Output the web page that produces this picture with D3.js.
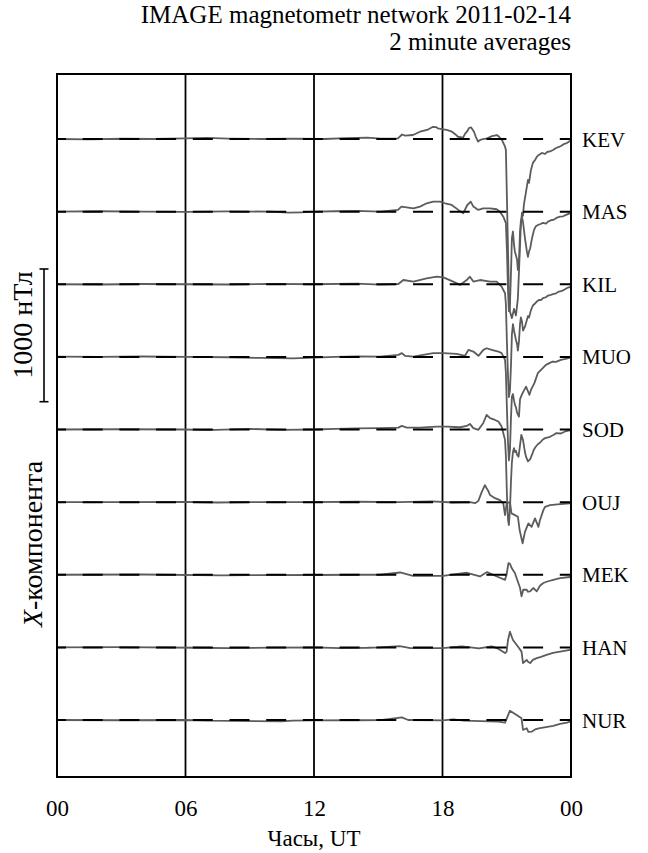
<!DOCTYPE html>
<html><head><meta charset="utf-8">
<script src="https://cdn.jsdelivr.net/npm/d3@7"></script>
<style>
body{margin:0;background:#fff}
svg{display:block;background:#fff}
text{font-family:"Liberation Serif","Times New Roman",serif;fill:#000}
</style>
</head><body>
<svg id="c" width="648" height="853"></svg>
<script>
// ---- data: [UT hour, X-component deviation in nT] ----
const stations = ["KEV","MAS","KIL","MUO","SOD","OUJ","MEK","HAN","NUR"];
const hourTicks = [0,6,12,18,24];
const gridHours = [6,12,18];
const titleLines = ["IMAGE magnetometr network 2011-02-14","2 minute averages"];
const scaleBarNT = 1000;

const KEV = [[0,0],[1.5,-3],[3,2],[4.5,0],[6,5],[7,8],[8,3],[9.5,0],[11,2],[12.5,0],[13.5,6],[14.5,10],[15.1,3],[15.6,2],[15.92,5],[16.11,34],[16.25,26],[16.62,30],[16.95,55],[17.28,68],[17.56,92],[17.70,90],[17.79,80],[18.02,73],[18.2,68],[18.44,55],[18.58,38],[18.72,17],[18.96,10],[19.05,38],[19.14,55],[19.24,83],[19.33,88],[19.47,55],[19.56,15],[19.66,-20],[19.75,-8],[19.84,-2],[20.08,5],[20.31,22],[20.54,30],[20.64,17],[20.78,-8],[20.92,-58],[20.96,-83],[21.01,-458],[21.06,-850],[21.10,-1150],[21.15,-1300],[21.24,-1350],[21.34,-1280],[21.43,-1330],[21.52,-1200],[21.57,-1000],[21.62,-800],[21.66,-645],[21.71,-555],[21.76,-578],[21.80,-495],[21.90,-398],[21.99,-308],[22.04,-330],[22.13,-233],[22.22,-180],[22.32,-158],[22.41,-133],[22.50,-120],[22.64,-105],[22.79,-113],[22.88,-98],[23.02,-94],[23.16,-83],[23.30,-68],[23.44,-60],[23.53,-53],[23.67,-38],[23.81,-30],[23.91,-19],[24,-11]];
const MAS = [[0,0],[2,3],[4,0],[6,-2],[8,2],[10,0],[10.8,-8],[11.4,-5],[12,0],[13,3],[14,5],[15.08,0],[15.92,13],[16.08,38],[16.64,25],[16.95,38],[17.26,63],[17.57,75],[17.88,75],[18.12,63],[18.43,50],[18.74,13],[18.97,-12],[19.16,50],[19.32,75],[19.44,38],[19.67,13],[19.90,25],[20.22,25],[20.53,18],[20.68,0],[20.84,-38],[20.96,-87],[21.01,-300],[21.06,-600],[21.10,-750],[21.15,-700],[21.20,-450],[21.24,-200],[21.29,-150],[21.34,-250],[21.38,-300],[21.43,-330],[21.48,-360],[21.52,-440],[21.57,-380],[21.62,-150],[21.66,-70],[21.71,-40],[21.76,-80],[21.85,-200],[21.94,-300],[21.99,-340],[22.04,-300],[22.09,-280],[22.18,-200],[22.27,-140],[22.36,-110],[22.46,-100],[22.55,-95],[22.69,-85],[22.83,-90],[22.93,-75],[23.06,-65],[23.21,-60],[23.35,-45],[23.49,-38],[23.63,-35],[23.77,-25],[23.91,-15],[24,-12]];
const KIL = [[0,0],[2,-2],[4,2],[6,0],[8,-2],[10,3],[12,0],[14,5],[15.08,-3],[15.94,2],[16.17,32],[16.64,20],[17.26,45],[17.73,57],[18.04,52],[18.50,20],[18.82,-5],[19.13,32],[19.28,57],[19.44,20],[19.75,32],[20.22,20],[20.53,20],[20.76,-18],[20.92,-68],[20.96,-150],[21.01,-450],[21.06,-700],[21.10,-850],[21.15,-800],[21.20,-600],[21.24,-380],[21.29,-300],[21.34,-350],[21.38,-380],[21.43,-420],[21.48,-450],[21.52,-500],[21.57,-430],[21.62,-300],[21.66,-250],[21.71,-280],[21.76,-350],[21.85,-320],[21.94,-270],[21.99,-240],[22.04,-250],[22.13,-195],[22.22,-160],[22.32,-145],[22.41,-130],[22.50,-118],[22.60,-120],[22.69,-105],[22.83,-98],[22.93,-85],[23.06,-80],[23.16,-75],[23.30,-68],[23.44,-55],[23.58,-50],[23.72,-38],[23.86,-25],[24,-18]];
const MUO = [[0,2],[2,0],[4,3],[6,0],[8,-3],[9.5,-8],[11,-12],[12,-5],[13,0],[14,3],[15.08,2],[15.94,15],[16.10,28],[16.25,8],[16.64,2],[17.10,15],[17.57,28],[18.04,28],[18.66,23],[19.05,8],[19.21,53],[19.44,40],[19.68,8],[19.91,53],[20.06,65],[20.30,53],[20.61,40],[20.76,28],[20.92,-23],[20.96,-120],[21.01,-400],[21.06,-650],[21.10,-780],[21.15,-700],[21.20,-450],[21.24,-300],[21.29,-280],[21.34,-330],[21.38,-360],[21.43,-380],[21.48,-420],[21.57,-450],[21.62,-320],[21.67,-298],[21.74,-273],[21.90,-224],[22.06,-286],[22.13,-249],[22.29,-198],[22.45,-123],[22.60,-98],[22.83,-60],[22.99,-47],[23.14,-35],[23.30,-38],[23.53,-23],[23.75,-15],[24,-3]];
const SOD = [[0,0],[3,2],[6,0],[7,-5],[9,5],[10.5,-3],[12,0],[13,5],[14,8],[15.08,10],[15.94,14],[16.10,27],[16.33,14],[16.95,14],[17.73,22],[18.20,22],[18.82,17],[19.13,27],[19.28,42],[19.44,10],[19.67,-3],[19.90,47],[20.06,110],[20.22,85],[20.45,72],[20.61,60],[20.76,22],[20.92,-78],[20.96,-200],[21.01,-500],[21.06,-680],[21.10,-720],[21.15,-600],[21.20,-380],[21.24,-250],[21.29,-170],[21.34,-140],[21.38,-170],[21.43,-160],[21.48,-190],[21.55,-205],[21.62,-120],[21.68,-40],[21.76,-80],[21.85,-170],[21.90,-205],[21.99,-240],[22.09,-225],[22.18,-190],[22.27,-150],[22.36,-128],[22.46,-110],[22.55,-100],[22.69,-75],[22.79,-65],[23.02,-55],[23.20,-40],[23.30,-28],[23.53,-30],[23.72,-15],[24,-5]];
const OUJ = [[0,0],[3,0],[6,2],[7.5,-3],[9,0],[12,0],[14,3],[16,0],[17.5,5],[18.5,-3],[19.28,0],[19.52,-8],[19.67,8],[19.83,75],[19.91,103],[19.98,128],[20.06,105],[20.12,90],[20.22,53],[20.45,30],[20.68,15],[20.84,-10],[20.92,-98],[21.00,-10],[21.15,0],[21.22,-85],[21.38,-98],[21.52,-110],[21.60,-210],[21.74,-310],[21.85,-224],[22.01,-160],[22.16,-186],[22.32,-123],[22.48,-186],[22.55,-136],[22.71,-60],[22.79,-35],[23.02,-23],[23.49,-15],[23.95,-10],[24,-8]];
const MEK = [[0,0],[4,2],[7.7,-5],[9,-3],[12,-2],[14,0],[15.08,0],[16.02,17],[16.62,-8],[18.02,-8],[19.14,15],[19.75,-13],[20.08,20],[20.54,-13],[20.92,-38],[20.99,0],[21.08,88],[21.15,83],[21.23,50],[21.38,13],[21.54,-62],[21.62,-98],[21.69,-163],[21.77,-113],[21.93,-113],[21.99,-128],[22.09,-125],[22.24,-100],[22.40,-125],[22.55,-83],[22.71,-62],[22.93,-49],[23.17,-38],[23.49,-26],[23.95,-17],[24,-15]];
const HAN = [[0,0],[3,2],[6.5,-3],[8,-5],[10,-2],[12,0],[13.2,-5],[14.5,-3],[15.08,0],[16.0,10],[16.5,-5],[18,-5],[18.9,8],[19.7,-8],[20.3,8],[20.6,-10],[20.92,-43],[20.99,-34],[21.06,56],[21.15,118],[21.22,86],[21.29,56],[21.52,6],[21.69,-32],[21.76,-118],[21.93,-94],[21.99,-109],[22.09,-118],[22.22,-94],[22.40,-81],[22.60,-71],[22.86,-56],[23.16,-41],[23.49,-32],[23.95,-19],[24,-18]];
const NUR = [[0,0],[3,-2],[6,0],[7,-5],[10.5,-10],[11,-5],[12,-3],[14,-2],[15.2,0],[16.1,20],[16.4,0],[18,-3],[18.5,5],[19.0,-5],[19.8,-8],[20.6,-12],[20.92,-20],[21.15,70],[21.46,38],[21.69,13],[21.76,-75],[21.93,-62],[22.01,-90],[22.16,-88],[22.36,-68],[22.55,-62],[22.83,-53],[23.17,-45],[23.49,-30],[23.81,-20],[23.95,-13],[24,-10]];
const series = [KEV,MAS,KIL,MUO,SOD,OUJ,MEK,HAN,NUR];

// ---- drawing ----
const svg = d3.select("#c");
const L=57, R=571, T=74, B=777;
const FONT = '"Liberation Serif","Times New Roman",serif';
const x = d3.scaleLinear().domain([0,24]).range([L,R]);
const row = d3.scaleLinear().domain([0,stations.length-1]).range([139,720]);
const dy = d3.scaleLinear().domain([0,1000]).range([0,-132.7]);

// title
svg.selectAll("text.title").data(titleLines).enter().append("text")
  .attr("class","title").attr("x",R).attr("y",(d,i)=>23+i*27)
  .attr("text-anchor","end").attr("font-size",25).text(d=>d);

// vertical grid lines
svg.selectAll("line.grid").data(gridHours).enter().append("line")
  .attr("x1",d=>x(d)).attr("x2",d=>x(d)).attr("y1",T).attr("y2",B)
  .attr("stroke","#000").attr("stroke-width",1.8);

// traces
const line = d3.line().x(d=>x(d[0]));
series.forEach((s,i)=>{
  svg.append("path").datum(s)
    .attr("d", line.y(d=>row(i)+dy(d[1])))
    .attr("fill","none").attr("stroke","#5c5c5c").attr("stroke-width",1.8)
    .attr("stroke-linejoin","round");
});

// dashed baselines
svg.selectAll("line.base").data(stations).enter().append("line")
  .attr("x1",L).attr("x2",R).attr("y1",(d,i)=>row(i)).attr("y2",(d,i)=>row(i))
  .attr("stroke","#000").attr("stroke-width",2)
  .attr("stroke-dasharray","20,16.7").attr("stroke-dashoffset",11);

// frame
svg.append("rect").attr("x",L).attr("y",T).attr("width",R-L).attr("height",B-T)
  .attr("fill","none").attr("stroke","#000").attr("stroke-width",2);

// station labels
svg.selectAll("text.st").data(stations).enter().append("text")
  .attr("class","st").attr("x",582).attr("y",(d,i)=>row(i)+7.5)
  .attr("font-size",21).text(d=>d);

// x axis
const ax = svg.append("g").attr("transform",`translate(0,${B})`)
  .call(d3.axisBottom(x).tickValues(hourTicks)
    .tickFormat(d=>String(d%24).padStart(2,"0")).tickSize(0).tickPadding(23));
ax.select(".domain").remove();
ax.attr("font-family",FONT).attr("font-size",23);
ax.selectAll("text").attr("fill","#000");

svg.append("text").attr("x",(L+R)/2).attr("y",846).attr("text-anchor","middle")
  .attr("font-size",23).text("Часы, UT");

// scale bar
const barTop = 269, barX = 44;
const barBot = barTop + (dy(0)-dy(scaleBarNT));
svg.append("line").attr("x1",barX).attr("x2",barX).attr("y1",barTop).attr("y2",barBot)
  .attr("stroke","#000").attr("stroke-width",1.6);
[barTop,barBot].forEach(y=>svg.append("line").attr("x1",barX-4.5).attr("x2",barX+4.5)
  .attr("y1",y).attr("y2",y).attr("stroke","#000").attr("stroke-width",1.6));

svg.append("text").attr("transform","translate(31.5,325) rotate(-90)")
  .attr("text-anchor","middle").attr("font-size",28).text("1000 нТл");
const yl = svg.append("text").attr("transform","translate(41.5,544) rotate(-90)")
  .attr("text-anchor","middle").attr("font-size",28);
yl.append("tspan").attr("font-style","italic").text("X");
yl.append("tspan").text("-компонента");
</script>
</body></html>
